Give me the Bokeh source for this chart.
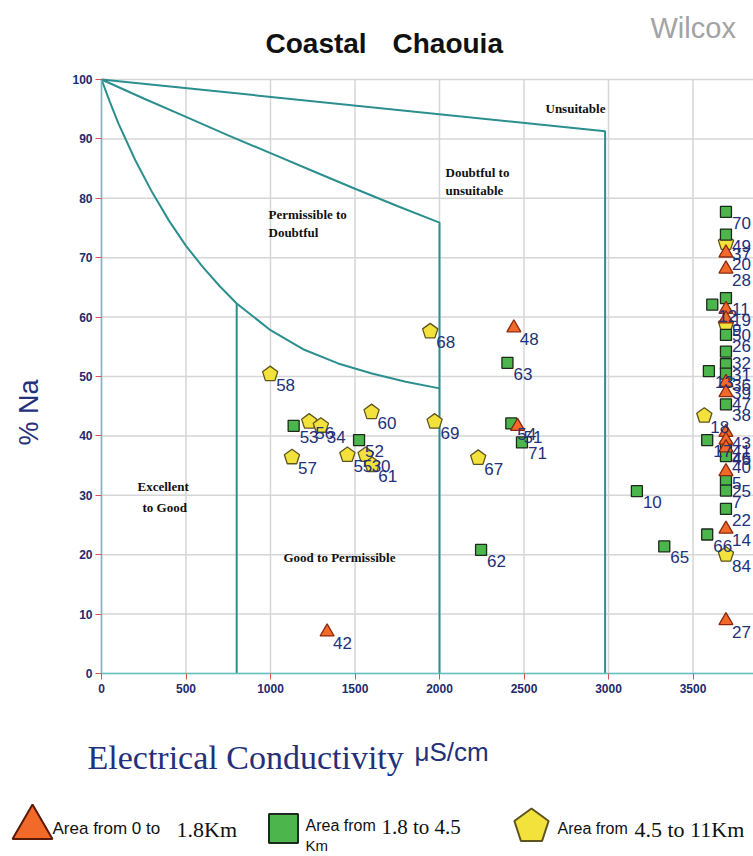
import math
from bokeh.plotting import figure
from bokeh.models import Range1d, Label, FixedTicker, ColumnDataSource
from bokeh.embed import file_html
from bokeh.resources import INLINE
from bokeh.core.properties import value

# ---------------- data ----------------
x_ticks = [0, 500, 1000, 1500, 2000, 2500, 3000, 3500]
y_ticks = [0, 10, 20, 30, 40, 50, 60, 70, 80, 90, 100]

# Wilcox class boundaries (EC, %Na)
unsuit_x = [0, 2980, 2980]
unsuit_y = [100, 91.3, 0]
doubt_x = [0, 250, 500, 750, 1000, 1250, 1500, 1750, 2000, 2000]
doubt_y = [100, 96.8, 93.7, 90.6, 87.6, 84.6, 81.6, 78.7, 75.9, 0]
perm_x = [0, 50, 100, 200, 300, 400, 500, 600, 700, 800, 1000, 1200, 1400, 1600, 1800, 2000]
perm_y = [100, 96.2, 92.6, 86.4, 81.0, 76.2, 72.0, 68.4, 65.2, 62.3, 57.8, 54.5, 52.2, 50.5, 49.1, 48.0]
exc_x = [800, 800]
exc_y = [62.3, 0]

# Area from 0 to 1.8 km (triangles)
tri_lab = ["48", "42", "51", "20", "28", "19", "9", "39", "47", "43", "41", "45", "5", "14", "27"]
tri_x = [2440, 1335, 2462, 3695, 3695, 3695, 3695, 3695, 3695, 3695, 3695, 3695, 3695, 3695, 3695]
tri_y = [58.2, 7.0, 41.6, 70.8, 68.1, 61.3, 59.7, 49.0, 47.3, 40.6, 39.3, 38.0, 34.0, 24.3, 8.9]

# Area from 1.8 to 4.5 km (squares)
sq_lab = ["53", "52", "63", "54", "71", "62", "10", "65", "70", "49", "11", "12", "26", "32", "31",
          "13", "36", "38", "17", "46", "40", "25", "7", "22", "66"]
sq_x = [1137, 1524, 2402, 2425, 2488, 2246, 3168, 3330, 3695, 3695, 3695, 3614, 3695, 3695, 3695,
        3594, 3695, 3695, 3584, 3695, 3695, 3695, 3695, 3695, 3584]
sq_y = [41.7, 39.3, 52.3, 42.1, 38.9, 20.8, 30.7, 21.4, 77.7, 73.9, 63.2, 62.1, 57.0, 54.2, 52.1,
        50.9, 50.5, 45.3, 39.3, 38.2, 36.6, 32.6, 30.8, 27.7, 23.4]

# Area from 4.5 to 11 km (pentagons)
pe_lab = ["68", "58", "60", "69", "56", "34", "57", "55", "30", "61", "67", "37", "50", "18", "84"]
pe_x = [1945, 998, 1598, 1971, 1229, 1298, 1127, 1455, 1563, 1602, 2229, 3695, 3695, 3567, 3695]
pe_y = [57.6, 50.4, 44.0, 42.4, 42.4, 41.7, 36.4, 36.8, 36.8, 35.1, 36.3, 72.5, 58.8, 43.4, 20.0]

legend_labels = ["Area from 0 to", "1.8Km", "Area from", "1.8 to 4.5", "Km", "Area from", "4.5 to 11Km"]

# ---------------- layout constants ----------------
W, H = 753, 856
PXX = 0.169             # px per EC unit
PXY = 5.94              # px per %Na unit
X0 = -101 / PXX         # x = 0 at canvas px 101
X1 = X0 + W / PXX
Y1 = 100 + 79 / PXY     # y = 100 at canvas py 79
Y0 = Y1 - H / PXY

def dx(px):   # canvas px -> data x (placement of texts / legend only)
    return X0 + px / PXX

def dy(py):   # canvas py -> data y
    return Y1 - py / PXY

NAVY = "#23307a"
TEAL = "#2b8f8f"

p = figure(width=W, height=H, x_range=Range1d(X0, X1), y_range=Range1d(Y0, Y1),
           output_backend="svg", toolbar_location=None,
           min_border=0, min_border_left=0, min_border_right=0, min_border_top=0, min_border_bottom=0)
p.outline_line_color = None
p.background_fill_color = "white"
p.border_fill_color = "white"
p.grid.visible = False

for ax in (p.xaxis[0], p.yaxis[0]):
    ax.fixed_location = 0
    ax.axis_line_color = "#62c3c3"
    ax.axis_line_width = 1.5
    ax.major_tick_line_color = "#d9534f"
    ax.major_tick_in = 0
    ax.major_tick_out = 6
    ax.minor_tick_line_color = None
    ax.major_label_text_font = "Liberation Sans"
    ax.major_label_text_font_style = "bold"
    ax.major_label_text_font_size = "12px"
    ax.major_label_text_color = "#1f2b6b"
p.xaxis.ticker = FixedTicker(ticks=x_ticks)
p.yaxis.ticker = FixedTicker(ticks=y_ticks)
p.xaxis.bounds = (0, X1)
p.yaxis.bounds = (0, 100)
p.xaxis.major_label_standoff = 4
p.yaxis.major_label_standoff = 3

# grid lines (bounded to the data area)
GRID = "#d6d6d6"
p.segment(x0=x_ticks, y0=[0] * len(x_ticks), x1=x_ticks, y1=[100] * len(x_ticks),
          line_color=GRID, line_width=1.5)
p.segment(x0=[0] * len(y_ticks), y0=y_ticks, x1=[X1] * len(y_ticks), y1=y_ticks,
          line_color=GRID, line_width=1.5)

# boundaries
for bx, by in ((unsuit_x, unsuit_y), (doubt_x, doubt_y), (perm_x, perm_y), (exc_x, exc_y)):
    p.line(bx, by, line_color=TEAL, line_width=2)

def lab(px, py, txt, font, size, color, style="normal", align="left", baseline="middle", angle=0.0):
    p.add_layout(Label(x=dx(px), y=dy(py), text=txt, text_font=font, text_font_size=size,
                       text_color=color, text_font_style=style, text_align=align,
                       text_baseline=baseline, angle=angle))

# zone labels
for px, py, t in ((545, 108, "Unsuitable"), (445, 172, "Doubtful to"), (445, 190, "unsuitable"),
                  (268, 214, "Permissible to"), (268, 232, "Doubtful"), (137, 486, "Excellent"),
                  (142, 507, "to Good"), (283, 557, "Good to Permissible")):
    lab(px, py, t, "Liberation Serif", "13px", "#111111", style="bold")

# markers
src_t = ColumnDataSource(dict(x=tri_x, y=tri_y, lab=tri_lab))
src_s = ColumnDataSource(dict(x=sq_x, y=sq_y, lab=sq_lab))
src_p = ColumnDataSource(dict(x=pe_x, y=pe_y, lab=pe_lab))

PE_FILL, PE_LINE = "#f3e23c", "#5e5420"
SQ_FILL, SQ_LINE = "#4cb54c", "#1b2a1b"
TR_FILL, TR_LINE = "#f26a2a", "#8a2a0c"

def pentagons(src, xs, ys, r, lw):
    try:
        p.ngon(x="x", y="y", radius=r, radius_units="screen", n=5, angle=0,
               source=src, fill_color=PE_FILL, line_color=PE_LINE, line_width=lw)
    except Exception:
        pxs, pys = [], []
        for x0, y0 in zip(xs, ys):
            pxs.append([x0 + r * math.cos(math.pi / 2 + k * 2 * math.pi / 5) / PXX for k in range(5)])
            pys.append([y0 + r * math.sin(math.pi / 2 + k * 2 * math.pi / 5) / PXY for k in range(5)])
        p.patches(pxs, pys, fill_color=PE_FILL, line_color=PE_LINE, line_width=lw)

pentagons(src_p, pe_x, pe_y, 8, 1.3)
p.scatter(x="x", y="y", source=src_s, marker="square", size=11,
          fill_color=SQ_FILL, line_color=SQ_LINE, line_width=1.3)
p.scatter(x="x", y="y", source=src_t, marker="triangle", size=14,
          fill_color=TR_FILL, line_color=TR_LINE, line_width=1.3)

for src in (src_p, src_s, src_t):
    p.text(x="x", y="y", text="lab", source=src, x_offset=6, y_offset=11,
           text_font=value("Liberation Sans"), text_font_size="17px", text_color=NAVY,
           text_baseline="middle", text_align="left")

# titles / axis labels
lab(265, 43, "Coastal", "Liberation Sans", "28px", "#111111", style="bold")
lab(392, 43, "Chaouia", "Liberation Sans", "28px", "#111111", style="bold")
lab(650, 27, "Wilcox", "Liberation Sans", "29px", "#a3a3a3")
lab(28, 412, "% Na", "Liberation Sans", "27px", NAVY, align="center", angle=math.pi / 2)
lab(87, 757, "Electrical Conductivity", "Liberation Serif", "34px", NAVY, baseline="alphabetic")
lab(414, 751, "\u03bcS/cm", "Liberation Sans", "26px", NAVY, baseline="alphabetic")

# ---------------- legend ----------------
p.scatter([dx(32)], [dy(827)], marker="triangle", size=40, fill_color=TR_FILL,
          line_color="#5a1a08", line_width=2)
p.scatter([dx(283)], [dy(828)], marker="square", size=29, fill_color=SQ_FILL,
          line_color=SQ_LINE, line_width=2)
src_lp = ColumnDataSource(dict(x=[dx(531)], y=[dy(826)]))
pentagons(src_lp, [dx(531)], [dy(826)], 18, 2)

leg_pos = [(52, 828, "Liberation Sans", "17px"), (176, 829, "Liberation Serif", "22px"),
           (305, 825, "Liberation Sans", "16px"), (381, 826, "Liberation Serif", "21px"),
           (305, 845, "Liberation Sans", "15px"),
           (557, 828, "Liberation Sans", "16px"), (634, 829, "Liberation Serif", "22px")]
for (px, py, fam, sz), t in zip(leg_pos, legend_labels):
    p.text(x=[dx(px)], y=[dy(py)], text=[t], text_font=value(fam), text_font_size=sz,
           text_color="#111111", text_baseline="middle", text_align="left")

open("out.html", "w").write(file_html(p, INLINE))
